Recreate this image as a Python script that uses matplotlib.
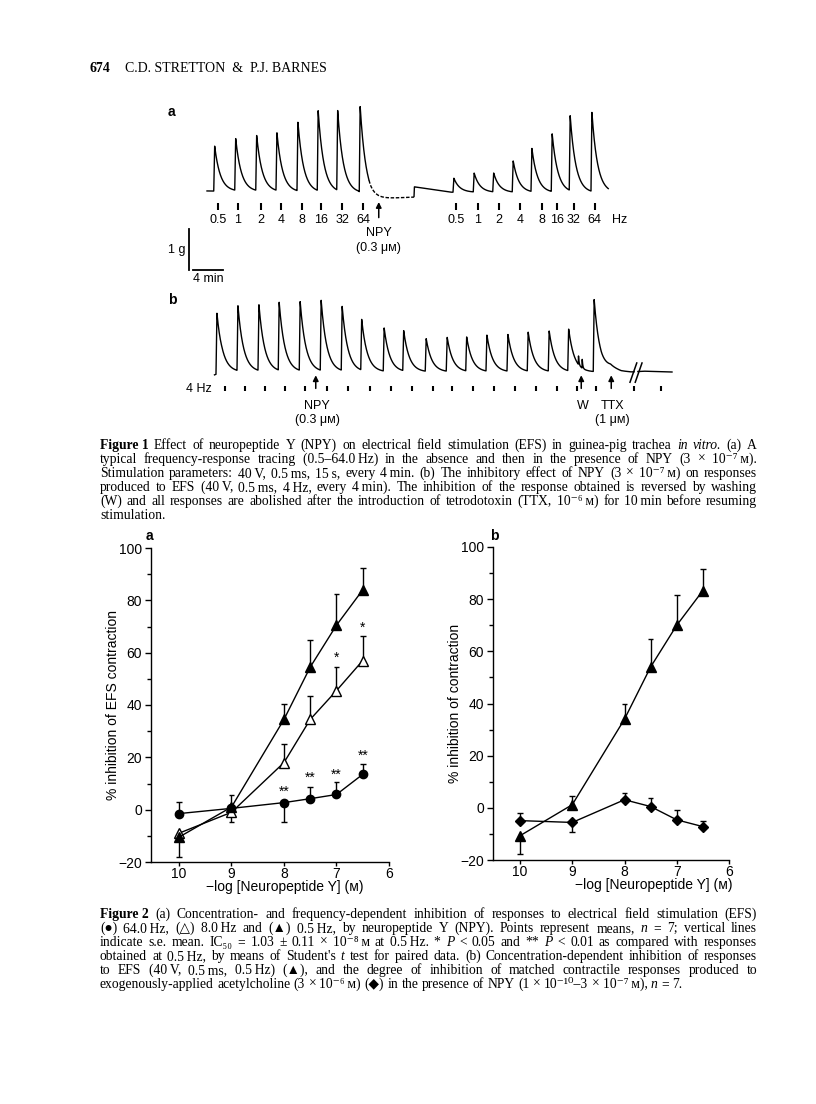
import matplotlib
matplotlib.use("Agg")
import numpy as np
import matplotlib.pyplot as plt

SANS = ["Liberation Sans", "DejaVu Sans"]
SERIF = ["Liberation Serif", "DejaVu Serif", "DejaVu Sans"]
W, H = 816, 1104

# ---------------- Figure 1a: frequency-response tracing (min, g) ----------------
fa_pre_t = [0.9, 3.7, 6.5, 9.2, 12.0, 14.7, 17.3, 20.3]
fa_pre_g = [1.10, 1.27, 1.34, 1.41, 1.68, 1.95, 1.95, 2.10]
fa_post_t = [32.8, 35.5, 38.1, 40.7, 43.2, 45.9, 48.3, 51.2]
fa_post_g = [0.34, 0.46, 0.46, 0.76, 1.05, 1.41, 1.83, 1.93]
fa_base_t = [0.0, 20.2, 21.8, 27.6, 27.65, 32.5, 53.5]
fa_base_g = [0.05, 0.0, -0.15, -0.10, 0.15, 0.02, 0.0]
fa_gap = (21.6, 27.6)          # pen skipping after NPY
fa_stim_t = [1.5, 4.1, 7.2, 9.9, 12.7, 15.2, 18.0, 20.8,
             33.2, 36.1, 38.9, 41.7, 44.7, 46.7, 48.9, 51.7]
fa_freqs = ["0.5", "1", "2", "4", "8", "16", "32", "64"] * 2
fa_npy_t = 22.9

# ---------------- Figure 1b: 4 Hz responses, NPY, wash, TTX ----------------
fb_t = [1.2, 4.0, 6.8, 9.5, 12.3, 15.1, 17.9, 20.5, 23.5, 26.1, 29.1, 31.9,
        34.5, 37.2, 40.0, 42.7, 45.5, 48.1, 51.5]
fb_g = [1.49, 1.59, 1.61, 1.66, 1.68, 1.71, 1.56, 1.24, 1.05, 0.98, 0.80, 0.83,
        0.83, 0.88, 0.90, 0.95, 0.98, 1.02, 1.76]
fb_wash_t = [49.5, 50.0]
fb_wash_g = [0.22, 0.22]
fb_base_t = [1.0, 2.0, 50.5, 52.6, 53.8, 55.2, 56.6, 58.2, 62.0]
fb_base_g = [-0.07, 0.0, 0.0, 0.0, 0.10, 0.02, 0.0, 0.02, 0.0]
fb_stim_t = [2.4, 5.1, 7.7, 10.4, 13.1, 16.0, 18.8, 21.7, 24.5, 27.3, 30.1, 32.7,
             35.5, 38.3, 41.1, 43.9, 46.7, 49.3, 51.9, 56.9, 60.5]
fb_break_t = 57.2
fb_arrows = [(14.5, ["NPY", "(0.3 μм)"]), (49.9, ["W"]), (53.9, ["TTX", "(1 μм)"])]

# ---------------- Figure 2 ----------------
conc = [10, 9, 8, 7.5, 7, 6.5]
a_05 = [-10.5, 1.0, 34.5, 54.5, 70.5, 84.0]
a_05_up = [0, 4.5, 6.0, 10.5, 12.0, 8.5]
a_05_dn = [7.5, 0, 0, 0, 0, 0]
a_8 = [-9.0, -1.0, 18.0, 34.5, 45.5, 57.0]
a_8_up = [0, 0, 7.0, 9.0, 9.0, 9.5]
a_8_dn = [0, 3.8, 0, 0, 0, 0]
a_64 = [-1.5, 0.5, 2.7, 4.2, 5.8, 13.5]
a_64_up = [4.5, 0, 0, 4.5, 4.8, 3.8]
a_64_dn = [0, 0, 7.5, 0, 0, 0]
a_stars = [(7, 58.0, "*"), (6.5, 69.5, "*"), (8, 7.0, "**"), (7.5, 12.0, "**"),
           (7, 13.5, "**"), (6.5, 20.5, "**")]

b_efs = [-10.7, 1.2, 34.0, 54.0, 70.0, 83.3]
b_efs_up = [0, 3.4, 5.8, 10.6, 11.5, 8.4]
b_efs_dn = [7.1, 0, 0, 0, 0, 0]
b_ach = [-4.9, -5.6, 3.1, 0.5, -4.6, -7.2]
b_ach_up = [2.9, 0, 2.7, 3.2, 3.8, 2.3]
b_ach_dn = [0, 3.5, 0, 0, 0, 0]

# caption words: "§b" marks bold, "§i" italic; \u2009 is a thin space inside a word
cap1 = [
    "§bFigure\u00a01 Effect of neuropeptide Y (NPY) on electrical field stimulation (EFS) in guinea-pig trachea §iin §ivitro. (a) A",
    "typical frequency-response tracing (0.5–64.0\u2009Hz) in the absence and then in the presence of NPY (3 × 10⁻⁷\u2009м).",
    "Stimulation parameters: 40\u2009V, 0.5\u2009ms, 15\u2009s, every 4\u2009min. (b) The inhibitory effect of NPY (3 × 10⁻⁷\u2009м) on responses",
    "produced to EFS (40\u2009V, 0.5\u2009ms, 4\u2009Hz, every 4\u2009min). The inhibition of the response obtained is reversed by washing",
    "(W) and all responses are abolished after the introduction of tetrodotoxin (TTX, 10⁻⁶\u2009м) for 10\u2009min before resuming",
    "stimulation.",
]
cap2 = [
    "§bFigure\u00a02 (a) Concentration- and frequency-dependent inhibition of responses to electrical field stimulation (EFS)",
    "(●) 64.0\u2009Hz, (△) 8.0\u2009Hz and (▲) 0.5\u2009Hz, by neuropeptide Y (NPY). Points represent means, §in = 7; vertical lines",
    "indicate s.e. mean. IC₅₀ = 1.03 ± 0.11 × 10⁻⁸\u2009м at 0.5\u2009Hz. * §iP < 0.05 and ** §iP < 0.01 as compared with responses",
    "obtained at 0.5\u2009Hz, by means of Student's §it test for paired data. (b) Concentration-dependent inhibition of responses",
    "to EFS (40\u2009V, 0.5\u2009ms, 0.5\u2009Hz) (▲), and the degree of inhibition of matched contractile responses produced to",
    "exogenously-applied acetylcholine (3 × 10⁻⁶\u2009м) (◆) in the presence of NPY (1 × 10⁻¹⁰–3 × 10⁻⁷\u2009м), §in = 7.",
]


def box(x0, y0, x1, y1):
    return [x0 / W, 1 - y1 / H, (x1 - x0) / W, (y1 - y0) / H]


def trace(t, t0s, amps, base_t, base_g, tau=0.75, rise=0.12):
    y = np.interp(t, base_t, base_g)
    for t0, a in zip(t0s, amps):
        dt = t - t0
        up = (dt >= 0) & (dt < rise)
        y[up] += a * dt[up] / rise
        dn = dt >= rise
        y[dn] += a * np.exp(-(dt[dn] - rise) / tau)
    return y


def arrow(ax, x, y0, y1):
    ax.annotate("", xy=(x, y1), xytext=(x, y0),
                arrowprops=dict(arrowstyle="-|>", color="k", lw=1.1, mutation_scale=8,
                                shrinkA=0, shrinkB=0))


fig = plt.figure(figsize=(W / 100, H / 100), dpi=100)
page = fig.add_axes([0, 0, 1, 1])
page.set_xlim(0, W)
page.set_ylim(H, 0)
page.axis("off")

page.text(89, 72, "674", family=SERIF, fontsize=10, fontweight="bold", va="baseline")
page.text(125, 72, "C.D. STRETTON  &  P.J. BARNES", family=SERIF, fontsize=10, va="baseline")
page.text(168, 112, "a", family=SANS, fontsize=10, fontweight="bold", va="center")
page.text(168, 300, "b", family=SANS, fontsize=10, fontweight="bold", va="center")

# ---- Figure 1a ----
ax = fig.add_axes(box(160, 100, 630, 290))
ax.set_xlim(-47 / 7.5, 423 / 7.5)
ax.set_ylim((193 - 290) / 41, (193 - 100) / 41)
ax.axis("off")
t = np.linspace(0, 53.5, 8000)
y = trace(t, fa_pre_t + fa_post_t, fa_pre_g + fa_post_g, fa_base_t, fa_base_g)
gap = (t > fa_gap[0]) & (t < fa_gap[1])
ax.plot(t, np.where(gap, np.nan, y), color="k", lw=1.0)
ax.plot(t[gap], y[gap], color="k", lw=1.0, ls=(0, (2.5, 1.2)))
ax.vlines(fa_stim_t, -0.41, -0.24, color="k", lw=1.5)
for st, lab in zip(fa_stim_t, fa_freqs):
    ax.text(st, -0.66, lab, family=SANS, fontsize=9, ha="center", va="center")
ax.text(54.0, -0.66, "Hz", family=SANS, fontsize=9, ha="left", va="center")
arrow(ax, fa_npy_t, -0.6, -0.22)
ax.text(fa_npy_t, -0.98, "NPY", family=SANS, fontsize=9, ha="center", va="center")
ax.text(fa_npy_t, -1.34, "(0.3 μм)", family=SANS, fontsize=9, ha="center", va="center")
# calibration bars
ax.plot([-2.4, -2.4], [-1.88, -0.88], color="k", lw=1.3)
ax.plot([-1.87, 2.13], [-1.88, -1.88], color="k", lw=1.3)
ax.text(-2.9, -1.38, "1 g", family=SANS, fontsize=9, ha="right", va="center")
ax.text(0.13, -2.1, "4 min", family=SANS, fontsize=9, ha="center", va="center")

# ---- Figure 1b ----
bx = fig.add_axes(box(160, 290, 700, 430))
bx.set_xlim(-47 / 7.5, 493 / 7.5)
bx.set_ylim((372 - 430) / 41, (372 - 290) / 41)
bx.axis("off")
t = np.linspace(1.0, 62.0, 9000)
y = trace(t, fb_t, fb_g, fb_base_t, fb_base_g)
y += trace(t, fb_wash_t, fb_wash_g, [1.0, 62.0], [0, 0], tau=0.08, rise=0.03)
cut = (t > fb_break_t - 0.25) & (t < fb_break_t + 0.25)
bx.plot(t, np.where(cut, np.nan, y), color="k", lw=1.0)
for dx in (-0.35, 0.35):
    bx.plot([fb_break_t + dx - 0.45, fb_break_t + dx + 0.45], [-0.25, 0.22], color="k", lw=1.1)
bx.vlines(fb_stim_t, -0.46, -0.34, color="k", lw=1.5)
bx.text(0.7, -0.41, "4 Hz", family=SANS, fontsize=9, ha="right", va="center")
for at, labs in fb_arrows:
    arrow(bx, at, -0.40, -0.08)
    for k, lab in enumerate(labs):
        bx.text(at + 0.2, -0.83 - 0.33 * k, lab, family=SANS, fontsize=9, ha="center", va="center")


# ---- Figure 2 ----
def panel(pos, left, ylabel, ylab_x, xlab_x):
    p = fig.add_axes(pos)
    p.set_xlim(left, 6)
    p.set_ylim(-20, 100)
    for s in ("top", "right"):
        p.spines[s].set_visible(False)
    for s in ("left", "bottom"):
        p.spines[s].set_linewidth(1.0)
    p.set_xticks([10, 9, 8, 7, 6])
    p.set_yticks(np.arange(-20, 101, 20))
    p.set_yticks(np.arange(-10, 100, 20), minor=True)
    p.tick_params(axis="y", which="major", direction="out", length=4.5, width=1.0,
                  labelsize=10, pad=2)
    p.tick_params(axis="x", which="major", direction="out", length=3, width=1.0,
                  labelsize=10, pad=0.5)
    p.tick_params(axis="y", which="minor", direction="out", length=3, width=1.0)
    for lab in p.get_xticklabels() + p.get_yticklabels():
        lab.set_family(SANS)
    p.set_ylabel(ylabel, family=SANS, fontsize=10)
    p.yaxis.set_label_coords(ylab_x, 0.5)
    p.set_xlabel("−log [Neuropeptide Y] (м)", family=SANS, fontsize=10)
    p.xaxis.set_label_coords(xlab_x, -0.058)
    return p


def series(p, y, up, dn, **mk):
    x = np.array(conc, float)
    y = np.array(y, float)
    up = np.array(up, float)
    dn = np.array(dn, float)
    cw = 0.055
    m = up > 0
    p.vlines(x[m], y[m], (y + up)[m], color="k", lw=1.0, zorder=1)
    p.hlines((y + up)[m], x[m] - cw, x[m] + cw, color="k", lw=1.0, zorder=1)
    m = dn > 0
    p.vlines(x[m], (y - dn)[m], y[m], color="k", lw=1.0, zorder=1)
    p.hlines((y - dn)[m], x[m] - cw, x[m] + cw, color="k", lw=1.0, zorder=1)
    p.plot(x, y, color="k", lw=1.0, zorder=2, **mk)


pa = panel(box(151, 548, 389, 862), 10 + 28 / 52.5, "% inhibition of EFS contraction",
           -0.13, 0.56)
series(pa, a_64, a_64_up, a_64_dn, marker="o", ms=6, mfc="k", mec="k")
series(pa, a_8, a_8_up, a_8_dn, marker="^", ms=7, mfc="white", mec="k", mew=1.0)
series(pa, a_05, a_05_up, a_05_dn, marker="^", ms=7, mfc="k", mec="k")
for sx, sy, s in a_stars:
    pa.text(sx, sy, s, family=SANS, fontsize=10, ha="center", va="center")

pb = panel(box(493, 547, 729, 860), 10 + 27 / 52.25, "% inhibition of contraction",
           -0.131, 0.68)
series(pb, b_ach, b_ach_up, b_ach_dn, marker="D", ms=5, mfc="k", mec="k")
series(pb, b_efs, b_efs_up, b_efs_dn, marker="^", ms=7, mfc="k", mec="k")

page.text(146, 536, "a", family=SANS, fontsize=10, fontweight="bold", va="center")
page.text(490, 536, "b", family=SANS, fontsize=10, fontweight="bold", va="center")


# ---- captions, justified like the printed page ----
def word(x, y, w, s):
    kw = dict(family=SERIF, fontsize=s, va="baseline")
    if w.startswith("§b"):
        w, kw["fontweight"] = w[2:], "bold"
    elif w.startswith("§i"):
        w, kw["fontstyle"] = w[2:], "italic"
    return page.text(x, y, w, **kw)


def caption(lines, x0, x1, y0, step, size=9.8):
    rend = fig.canvas.get_renderer()
    for i, line in enumerate(lines):
        words = line.split(" ")
        last = i == len(lines) - 1
        s = size
        while True:
            arts = [word(x0, y0 + i * step, w, s) for w in words]
            widths = [a.get_window_extent(rend).width for a in arts]
            space = s * 0.25 * 100 / 72
            if last or len(arts) < 2:
                gap = space
                break
            gap = (x1 - x0 - sum(widths)) / (len(arts) - 1)
            if gap >= 0.6 * space:
                break
            for a in arts:
                a.remove()
            s *= 0.98
        x = x0
        for a, w in zip(arts, widths):
            a.set_x(x)
            x += w + gap


caption(cap1, 100, 757, 449, 14.0)
caption(cap2, 100, 757, 918, 14.0)

fig.savefig("out.png", dpi=100)
